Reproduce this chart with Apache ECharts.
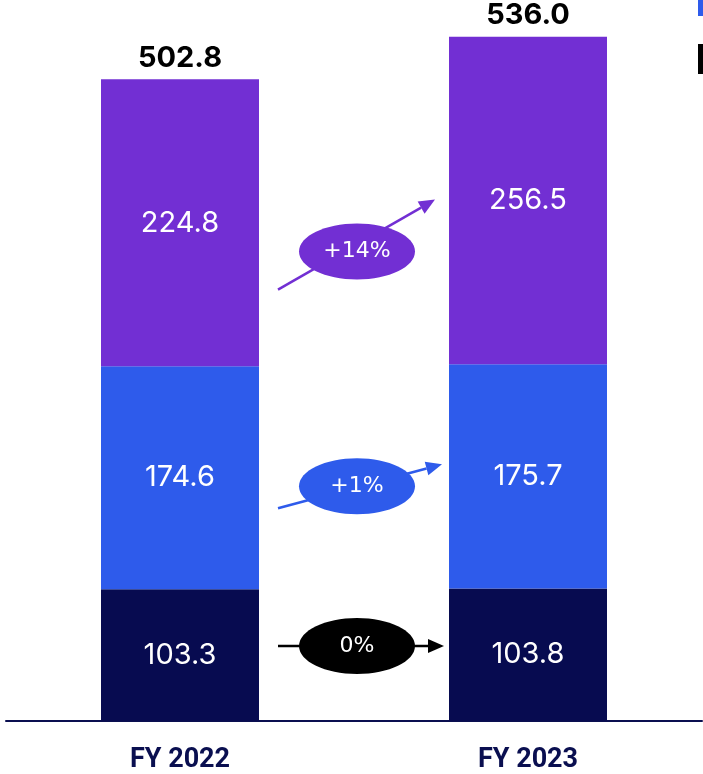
<!DOCTYPE html>
<html><head><meta charset="utf-8">
<script src="https://cdn.jsdelivr.net/npm/echarts@6/dist/echarts.min.js"></script>
<style>html,body{margin:0;padding:0;background:#fff}#c{width:703px;height:774px}</style>
</head><body><div id="c"></div>
<script>
const categories = ['FY 2022', 'FY 2023'];
const seriesNames = ['Segment C', 'Segment B', 'Segment A'];
const navyVals = [103.3, 103.8];
const blueVals = [174.6, 175.7];
const purpleVals = [224.8, 256.5];
const totals = [502.8, 536.0];
// change annotations: [startY, endY, ellipseY, label]
const changes = [
  [338.0, 408.5, 367.8, '+14%'],
  [166.7, 201.1, 183.9, '+1%'],
  [58.7, 58.7, 58.7, '0%']
];
const colors = ['#070B50', '#2E5BEB', '#722FD3'];
const changeColors = ['#722FD3', '#2E5BEB', '#000000'];
const arrowEndGap = [14, 7, 5];

const BAR_W = 158;
const inLabel = {show: true, position: 'inside', color: '#fff', fontSize: 29, fontFamily: 'Inter', fontWeight: 400,
  formatter: p => p.value.toFixed(1)};

const chart = echarts.init(document.getElementById('c'), null, {renderer: 'canvas'});
chart.setOption({
  animation: false,
  grid: {left: 6, right: 1, top: 19, bottom: 48},
  graphic: [
    {type: 'rect', left: 698, top: -14, shape: {width: 30, height: 30}, style: {fill: colors[1]}},
    {type: 'rect', left: 698, top: 44, shape: {width: 30, height: 30}, style: {fill: '#000'}}
  ],
  xAxis: {type: 'category', data: categories, boundaryGap: true,
    axisLine: {lineStyle: {color: '#0A0F50', width: 2}}, axisTick: {show: false},
    axisLabel: {margin: 26, color: '#0A0F50', fontSize: 27, fontWeight: 'bold', fontFamily: 'Roboto'}},
  yAxis: {type: 'value', min: 0, max: 550, show: false, splitLine: {show: false}},
  series: [
    {name: seriesNames[0], type: 'bar', stack: 't', barWidth: BAR_W, data: navyVals, itemStyle: {color: colors[0]}, label: inLabel},
    {name: seriesNames[1], type: 'bar', stack: 't', barWidth: BAR_W, data: blueVals, itemStyle: {color: colors[1]}, label: inLabel},
    {name: seriesNames[2], type: 'bar', stack: 't', barWidth: BAR_W, data: purpleVals, itemStyle: {color: colors[2]}, label: inLabel},
    {name: 'totals', type: 'bar', stack: 't', barWidth: BAR_W, data: [0, 0], itemStyle: {color: 'transparent'},
      label: {show: true, position: 'top', distance: 7, color: '#000', fontSize: 29, fontWeight: 'bold', fontFamily: 'Inter',
        formatter: p => totals[p.dataIndex].toFixed(1)}},
    {name: 'changes', type: 'custom', data: changes.map((c, i) => [c[0], c[1], c[2], i]),
      renderItem: function (params, api) {
        const i = api.value(3);
        const c = changes[i];
        const col = changeColors[i];
        const p0 = api.coord([0, api.value(0)]);
        const p1 = api.coord([1, api.value(1)]);
        const pe = api.coord([0, api.value(2)]);
        const x0 = p0[0] + BAR_W / 2 + 19;
        const x1 = p1[0] - BAR_W / 2 - arrowEndGap[i];
        const y0 = p0[1], y1 = p1[1];
        const ang = Math.atan2(y1 - y0, x1 - x0);
        const hl = 16, hw = 7;
        const bx = x1 - hl * Math.cos(ang), by = y1 - hl * Math.sin(ang);
        const nx = -Math.sin(ang), ny = Math.cos(ang);
        const cx = 357;
        return {type: 'group', children: [
          {type: 'line', shape: {x1: x0, y1: y0, x2: bx, y2: by}, style: {stroke: col, lineWidth: 2.5}},
          {type: 'polygon', shape: {points: [[x1, y1], [bx + nx * hw, by + ny * hw], [bx - nx * hw, by - ny * hw]]}, style: {fill: col}},
          {type: 'ellipse', shape: {cx: (p0[0] + p1[0]) / 2 + 3, cy: pe[1], rx: 58, ry: 28}, style: {fill: col}},
          {type: 'text', x: (p0[0] + p1[0]) / 2 + 3, y: pe[1], style: {text: c[3], fill: '#fff', fontSize: 22, fontFamily: 'DejaVu Sans', align: 'center', verticalAlign: 'middle'}}
        ]};
      }
    }
  ]
});
</script></body></html>
